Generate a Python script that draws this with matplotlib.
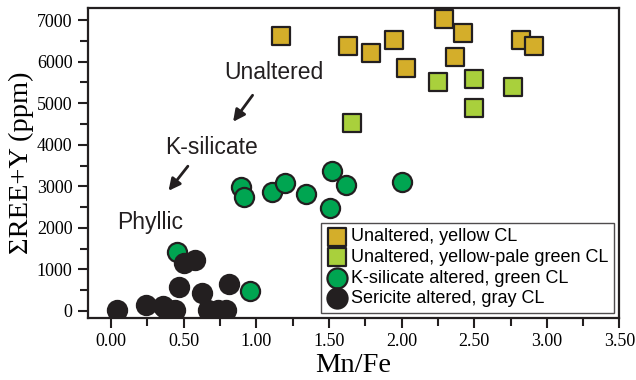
import matplotlib
matplotlib.use("Agg")
import matplotlib.pyplot as plt
from matplotlib.ticker import MultipleLocator

# Mn/Fe vs sum REE+Y (ppm)
yellow_x = [1.17, 1.63, 1.79, 1.95, 2.03, 2.29, 2.42, 2.37, 2.82, 2.91]
yellow_y = [6615, 6375, 6215, 6520, 5853, 7017, 6680, 6120, 6520, 6382]

palegreen_x = [2.25, 2.50, 2.77, 2.50, 1.66]
palegreen_y = [5509, 5590, 5397, 4883, 4522]

green_x = [0.895, 0.916, 1.11, 1.20, 1.34, 1.52, 1.62, 1.51, 2.00, 0.457, 0.959]
green_y = [2975, 2735, 2863, 3071, 2807, 3368, 3023, 2486, 3103, 1419, 481]

black_x = [0.043, 0.244, 0.37, 0.443, 0.50, 0.578, 0.468, 0.628, 0.815, 0.667, 0.735, 0.792, 0.358]
black_y = [24, 152, 80, 24, 1147, 1235, 570, 440, 641, 24, 24, 24, 110]

labels = ["Unaltered, yellow CL", "Unaltered, yellow-pale green CL",
          "K-silicate altered, green CL", "Sericite altered, gray CL"]

ink = "#231f20"
serif = "Liberation Serif"
sans = "Liberation Sans"

fig = plt.figure(figsize=(6.36, 3.8), dpi=100)
ax = fig.add_axes([0.138, 0.163, 0.836, 0.816])

ax.scatter(yellow_x, yellow_y, marker="s", s=150, c="#d4ae2a", edgecolors=ink, linewidths=1.6, label=labels[0], zorder=3)
ax.scatter(palegreen_x, palegreen_y, marker="s", s=150, c="#a9d03c", edgecolors=ink, linewidths=1.6, label=labels[1], zorder=3)
ax.scatter(green_x, green_y, marker="o", s=190, c="#00a551", edgecolors=ink, linewidths=1.6, label=labels[2], zorder=3)
ax.scatter(black_x, black_y, marker="o", s=190, c=ink, edgecolors=ink, linewidths=1.6, label=labels[3], zorder=3)

ax.set_xlim(-0.16, 3.5)
ax.set_ylim(-170, 7290)

ax.xaxis.set_major_locator(MultipleLocator(0.5))
ax.xaxis.set_minor_locator(MultipleLocator(0.25))
ax.yaxis.set_major_locator(MultipleLocator(1000))
ax.yaxis.set_minor_locator(MultipleLocator(500))
ax.xaxis.set_major_formatter(lambda v, p: f"{v:.2f}")

ax.tick_params(which="both", direction="out", color=ink, width=1.5)
ax.tick_params(which="major", length=7, labelsize=13, pad=4)
ax.tick_params(which="minor", length=6)
for t in ax.get_xticklabels() + ax.get_yticklabels():
    t.set_fontfamily(serif)

for s in ax.spines.values():
    s.set_linewidth(1.6)
    s.set_color(ink)

ax.set_xlabel("Mn/Fe", fontfamily=serif, fontsize=20.5, labelpad=2)
ax.set_ylabel("\u03a3REE+Y (ppm)", fontfamily=serif, fontsize=20.5, labelpad=2)

# alteration trend annotations
ax.text(1.12, 5581, "Unaltered", fontfamily=sans, fontsize=16.5, ha="center", va="baseline", color=ink)
ax.text(0.69, 3777, "K-silicate", fontfamily=sans, fontsize=16.5, ha="center", va="baseline", color=ink)
ax.text(0.27, 1973, "Phyllic", fontfamily=sans, fontsize=16.5, ha="center", va="baseline", color=ink)
arrow = dict(arrowstyle="-|>,head_length=0.7,head_width=0.35", color=ink, lw=2)
ax.annotate("", xy=(0.829, 4498), xytext=(0.986, 5244), arrowprops=arrow)
ax.annotate("", xy=(0.384, 2839), xytext=(0.541, 3536), arrowprops=arrow)

leg = ax.legend(loc="lower right", prop={"family": sans, "size": 13}, frameon=True, fancybox=False,
                edgecolor=ink, borderaxespad=0.3, handletextpad=0.2, labelspacing=0.2,
                borderpad=0.3, handlelength=1.2, markerscale=1.05)
leg.get_frame().set_linewidth(1.0)

fig.savefig("out.png", dpi=100)
